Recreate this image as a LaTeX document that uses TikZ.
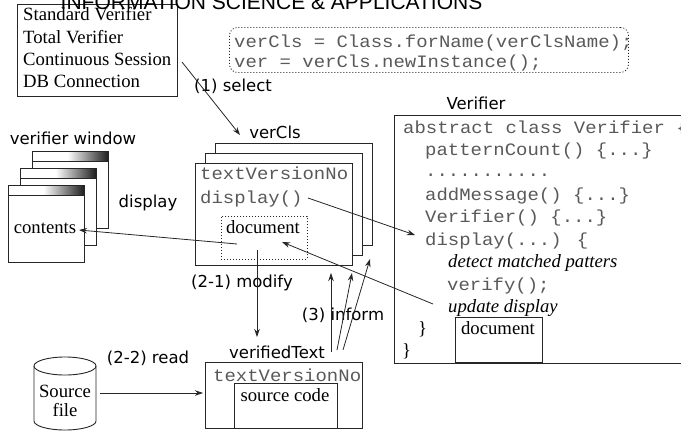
\documentclass[tikz,border=0pt]{standalone}
\usepackage{fontspec}
\setmainfont{Liberation Serif}
\newfontfamily\labfont{DejaVu Sans}
\newfontfamily\codefont[FakeStretch=1.09]{Liberation Mono}
\newfontfamily\headfont{Liberation Sans}
\usetikzlibrary{arrows.meta}
% white on the left half, darkening towards the right end of a title bar
\pgfdeclarehorizontalshading{titlebar}{100bp}{color(0bp)=(white); color(48bp)=(white); color(75bp)=(black!90); color(100bp)=(black!90)}

\begin{document}
\begin{tikzpicture}[x=1pt,y=-1pt,
  frame/.style={draw=black!85, line width=0.9pt, inner sep=0pt, anchor=north west},
  dotframe/.style={frame, dash pattern=on 1pt off 2pt},
  lbl/.style={font=\labfont\fontsize{16.5}{18}\selectfont, inner sep=0pt},
  ser/.style={font=\fontsize{18.7}{21}\selectfont, inner sep=0pt},
  serit/.style={font=\itshape\fontsize{18.7}{21}\selectfont, inner sep=0pt, anchor=base west},
  mono/.style={font=\codefont\fontsize{17.4}{21}\selectfont, inner sep=0pt, text=black!65, anchor=base west},
  arr/.style={draw=black!85, line width=0.8pt, -{Stealth[length=8pt,width=5.5pt]}},
  win/.style={frame, fill=white, minimum width=76pt, minimum height=77pt},
  clsbox/.style={frame, fill=white, minimum width=157pt, minimum height=102pt}]

\useasboundingbox (0,0) rectangle (681,437);

% ---- list of verifier kinds ----
\node[frame, minimum width=160pt, minimum height=92pt] (kinds) at (17,4) {};
\node[ser, anchor=base west] (k1) at (23,20) {Standard Verifier};
\node[ser, anchor=base west] (k2) at (23,43) {Total Verifier};
\node[ser, anchor=base west] (k3) at (23,65) {Continuous Session};
\node[ser, anchor=base west] (k4) at (23,87) {DB Connection};

% ---- reflection code ----
\node[dotframe, rounded corners=8pt, minimum width=399pt, minimum height=45pt] (refl) at (229,27) {};
\node[mono] (r1) at (234,47) {verCls = Class.forName(verClsName);};
\node[mono] (r2) at (234,67) {ver = verCls.newInstance();};

% ---- verifier windows ----
\foreach \n/\x/\y in {3/32/151, 2/20/168, 1/8/185}{
  \node[win] (win\n) at (\x,\y) {};
  \shade[shading=titlebar] (win\n.north west) rectangle ([yshift=-10pt]win\n.north east);
  \draw[draw=black!85, line width=0.9pt] (win\n.north west) rectangle ([yshift=-10pt]win\n.north east);
}
\node[ser] (contents) at (45,228) {contents};
\node[lbl] (winlbl) at (73,138) {verifier window};
\node[lbl] (displbl) at (148,203) {display};

% ---- verCls instances ----
\node[clsbox] (cls3) at (215,143) {};
\node[clsbox] (cls2) at (205,153) {};
\node[clsbox] (cls1) at (195,163) {};
\node[lbl] (clslbl) at (275,132) {verCls};
\node[mono] (c1) at (200,179) {textVersionNo};
\node[mono] (c2) at (200,203) {display()};
\node[dotframe, minimum width=86pt, minimum height=43pt] (cdoc) at (221,216) {};
\node[ser] (cdoctxt) at (263,227) {document};

% ---- Verifier class ----
\node[lbl] (vlbl) at (476,103) {Verifier};
\node[frame, minimum width=300pt, minimum height=248pt] (vbox) at (394,115) {};
\node[mono] (v1) at (403,133) {abstract class Verifier \{};
\node[mono] (v2) at (425,155.5) {patternCount() \{...\}};
\node[mono] (v3) at (425,176) {...........};
\node[mono] (v4) at (425,200) {addMessage() \{...\}};
\node[mono] (v5) at (425,222.5) {Verifier() \{...\}};
\node[mono] (v6) at (425,245) {display(...) \{};
\node[serit] (v7) at (448,267) {detect matched patters};
\node[mono] (v8) at (447,290) {verify();};
\node[serit] (v9) at (448,312) {update display};
\node[ser, anchor=base west] (v10) at (418,334) {\}};
\node[ser, anchor=base west] (v11) at (402,356) {\}};
\node[frame, minimum width=87pt, minimum height=45pt] (vdoc) at (455,317) {};
\node[ser] (vdoctxt) at (498,328) {document};

% ---- verifiedText ----
\node[lbl] (vtlbl) at (277,352) {verifiedText};
\node[frame, fill=white, minimum width=157pt, minimum height=66pt] (vt) at (205,362) {};
\node[mono] (vt1) at (213,381) {textVersionNo};
\node[frame, minimum width=103pt, minimum height=45pt] (srccode) at (234,383) {};
\node[ser] (srccodetxt) at (285,395) {source code};

% ---- source file ----
\draw[draw=black!85, line width=0.9pt, fill=white]
  (34,366) -- (34,421) arc[start angle=180, end angle=0, x radius=31, y radius=9]
  -- (96,366) arc[start angle=0, end angle=-180, x radius=31, y radius=9] -- cycle;
\draw[draw=black!85, line width=0.9pt] (34,366) arc[start angle=180, end angle=0, x radius=31, y radius=9];
\node[ser, align=center, font=\fontsize{18.7}{19}\selectfont] (src) at (65,401) {Source\\file};

% ---- connector labels ----
\node[lbl] (sellbl) at (233,86) {(1) select};
\node[lbl] (modlbl) at (242,283) {(2-1) modify};
\node[lbl] (readlbl) at (148,358) {(2-2) read};
\node[lbl] (inflbl) at (343,315) {(3) inform};

% ---- connector ends ----
\coordinate (selFrom) at (182,62);
\coordinate (selTo) at (240,135);
\coordinate (docOut) at (237,244);
\coordinate (contIn) at (79,230);
\coordinate (dispOut) at (308,198);
\coordinate (dispIn) at (415,235);
\coordinate (updOut) at (433,304);
\coordinate (docIn) at (282,242);
\coordinate (modOut) at (257,250);
\coordinate (modIn) at (257,337);
\coordinate (readOut) at (100,393);
\coordinate (readIn) at (203,393);
\coordinate (infA) at (331,352);
\coordinate (infB) at (337,350);
\coordinate (infC) at (343,350);
\coordinate (infA2) at (331,273);
\coordinate (infB2) at (352,273);
\coordinate (infC2) at (370,259);

% ---- connectors ----
\draw[arr] (selFrom) -- (selTo);
\draw[arr] (docOut) -- (contIn);
\draw[arr] (dispOut) -- (dispIn);
\draw[arr] (updOut) -- (docIn);
\draw[arr] (modOut) -- (modIn);
\draw[arr] (readOut) -- (readIn);
\draw[arr] (infA) -- (infA2);
\draw[arr] (infB) -- (infB2);
\draw[arr] (infC) -- (infC2);

% ---- running head ----
\node[font=\headfont\fontsize{21}{24}\selectfont, inner sep=0pt, anchor=base] (head) at (271.5,9.5) {INFORMATION SCIENCE \& APPLICATIONS};
\end{tikzpicture}
\end{document}
